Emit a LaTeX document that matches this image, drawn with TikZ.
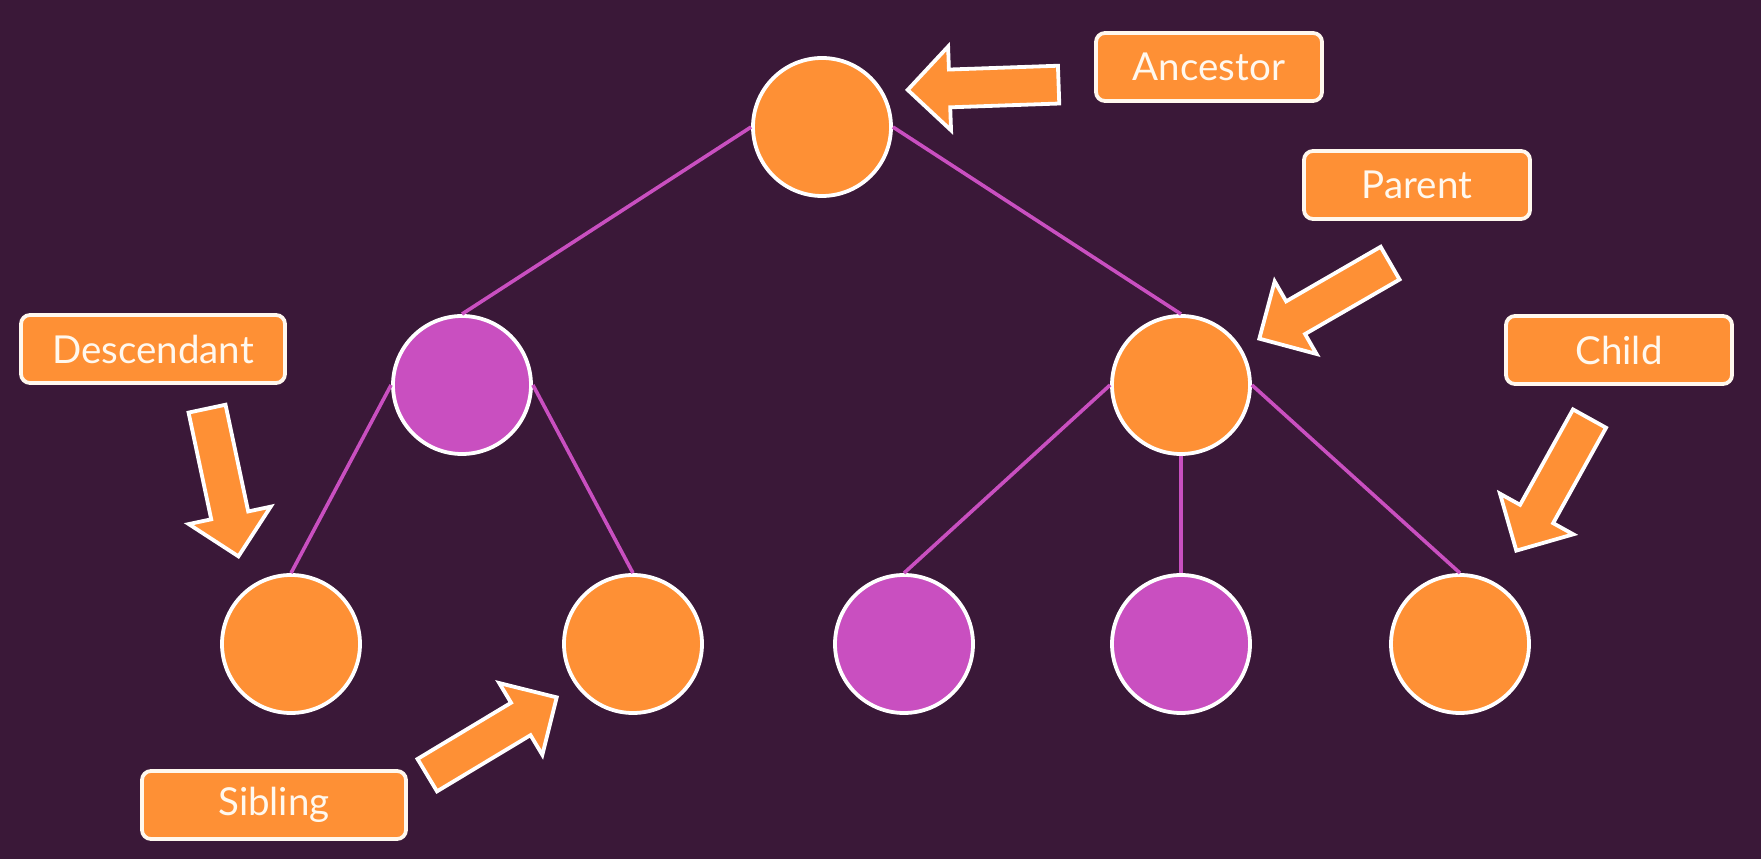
\documentclass[tikz,border=0pt]{standalone}
\usepackage{fontspec}
\setmainfont{Lato}
\usepackage{tikz}
\usetikzlibrary{shapes.arrows}

\definecolor{bgplum}{HTML}{3A1838}
\definecolor{treeorange}{HTML}{FE9035}
\definecolor{treepurple}{HTML}{C94FC0}
\definecolor{labelwhite}{HTML}{FFF8EE}

\begin{document}
\begin{tikzpicture}[x=1pt,y=1pt]
	
	\tikzset{tree node/.style={
			circle,
			draw=white, line width=3.8pt,
			minimum size=138pt,
			inner sep=0pt,
			fill=#1
		},
		tree node/.default=treeorange,
		term label/.style={
			draw=labelwhite, line width=3.8pt,
			rounded corners=9pt,
			fill=treeorange, text=labelwhite,
			minimum height=68pt,
			text width=#1,
			align=center,
			inner sep=0pt,
			font=\fontsize{38.5}{42}\selectfont
		},
		term label/.default=226pt,
		pointer/.style={
			single arrow,
			draw=white, line width=3.8pt,
			fill=treeorange,
			minimum height=151pt,
			inner xsep=0pt, inner ysep=17pt,
			single arrow head extend=23pt,
			anchor=tip,
			rotate=#1
		},
		branch/.style={draw=treepurple, line width=3.6pt}
	}
	
	\path[use as bounding box, fill=bgplum] (0,0) rectangle (1761,859);
	
	% tree
	\node[tree node] (root) at (822,732) {};
	\node[tree node=treepurple] (midL) at (462,474) {};
	\node[tree node] (midR) at (1181,474) {};
	\node[tree node] (leafA) at (291,215) {};
	\node[tree node] (leafB) at (633,215) {};
	\node[tree node=treepurple] (leafC) at (904,215) {};
	\node[tree node=treepurple] (leafD) at (1181,215) {};
	\node[tree node] (leafE) at (1460,215) {};
	
	\draw[branch] (root.west) -- (midL.north);
	\draw[branch] (root.east) -- (midR.north);
	\draw[branch] (midL.west) -- (leafA.north);
	\draw[branch] (midL.east) -- (leafB.north);
	\draw[branch] (midR.west) -- (leafC.north);
	\draw[branch] (midR.south) -- (leafD.north);
	\draw[branch] (midR.east) -- (leafE.north);
	
	% labels
	\node[term label] (ancestorLabel) at (1209,792) {Ancestor};
	\node[term label] (parentLabel) at (1417,674) {Parent};
	\node[term label] (childLabel) at (1619,509) {Child};
	\node[term label=264pt] (descendantLabel) at (153,510) {Descendant};
	\node[term label=264pt] (siblingLabel) at (274,54) {Sibling};
	
	% arrows
	\node[pointer=182] (ancestorArrow) at (905,769) {};
	\node[pointer=210] (parentArrow) at (1257,519) {};
	\node[pointer=241] (childArrow) at (1515,306) {};
	\node[pointer=282] (descendantArrow) at (239,300) {};
	\node[pointer=31] (siblingArrow) at (559,163) {};
	
\end{tikzpicture}
\end{document}
